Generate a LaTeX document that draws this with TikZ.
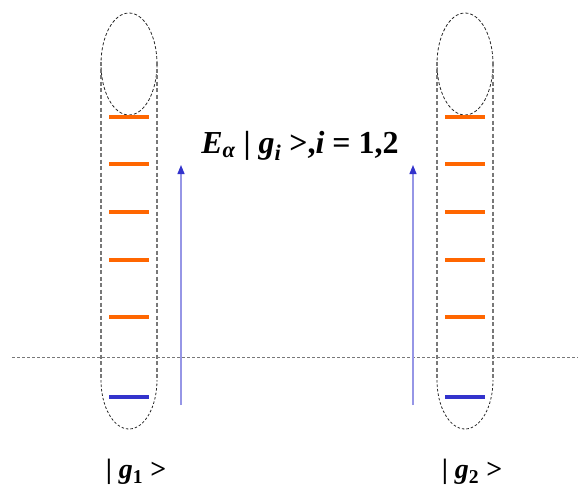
\documentclass[tikz,border=0pt]{standalone}
\usepackage{fontspec}
\setmainfont{Liberation Serif}
\usetikzlibrary{arrows.meta,positioning,shapes.geometric}
\definecolor{levelorange}{RGB}{255, 102, 0}
\definecolor{levelblue}{RGB}{51, 51, 204}
\definecolor{arrowshaft}{RGB}{150, 150, 230}
\definecolor{dashgray}{RGB}{120, 120, 120}

\begin{document}
\begin{tikzpicture}[
  x=1pt, y=-1pt,
  cloud/.style={ellipse, draw=black!85, dashed, dash pattern=on 3pt off 2pt, line width=0.8pt, minimum width=56pt, minimum height=102pt, inner sep=0pt},
  tube/.style={draw=dashgray, dash pattern=on 4pt off 2.5pt, line width=1.4pt},
  level/.style={rectangle, fill=levelorange, minimum width=40pt, minimum height=4.5pt, inner sep=0pt},
  ground/.style={rectangle, fill=levelblue, minimum width=40pt, minimum height=4.5pt, inner sep=0pt},
  excite/.style={-{Triangle[length=9pt,width=7pt,color=levelblue]}, line width=1.2pt, draw=arrowshaft},
  statelabel/.style={font=\fontsize{28}{30}\selectfont\bfseries\itshape, inner sep=0pt}
]
\useasboundingbox (0,0) rectangle (578,491);

% separating line
\coordinate (sepL) at (12,357);
\coordinate (sepR) at (578,357);
\draw[tube, line width=0.9pt, dash pattern=on 3pt off 2pt] (sepL) -- (sepR);

% two columns of levels
\foreach \col/\cx in {a/129, b/465} {
  \node[cloud] (top\col) at (\cx,64) {};
  \draw[dash pattern=on 2.5pt off 2pt, draw=black!85, line width=0.8pt]
    (\cx-28,380) arc[start angle=180, end angle=0, x radius=28, y radius=49];
  \draw[tube] (\cx-28,62) -- (\cx-28,380);
  \draw[tube] (\cx+28,62) -- (\cx+28,380);
  \foreach \ly [count=\k] in {117,164,212,260,317}
    \node[level] (lev\col\k) at (\cx,\ly) {};
  \node[ground] (gnd\col) at (\cx,397) {};
}

% excitation arrows
\coordinate (upAfrom) at (181,405);
\coordinate (upAto) at (181,165);
\coordinate (upBfrom) at (413,405);
\coordinate (upBto) at (413,165);
\draw[excite] (upAfrom) -- (upAto);
\draw[excite] (upBfrom) -- (upBto);

% labels
\node[statelabel, font=\fontsize{32}{34}\selectfont\bfseries\itshape] (excited) at (300,146)
  {E\textsubscript{α}\ \upshape|\ \itshape g\textsubscript{i}\ \upshape>,\itshape i\ \upshape=\ 1,2};
\node[statelabel] (state1) at (136,472) {\upshape|\ \itshape g\textsubscript{\upshape 1}\ \upshape>};
\node[statelabel] (state2) at (472,472) {\upshape|\ \itshape g\textsubscript{\upshape 2}\ \upshape>};
\end{tikzpicture}
\end{document}
